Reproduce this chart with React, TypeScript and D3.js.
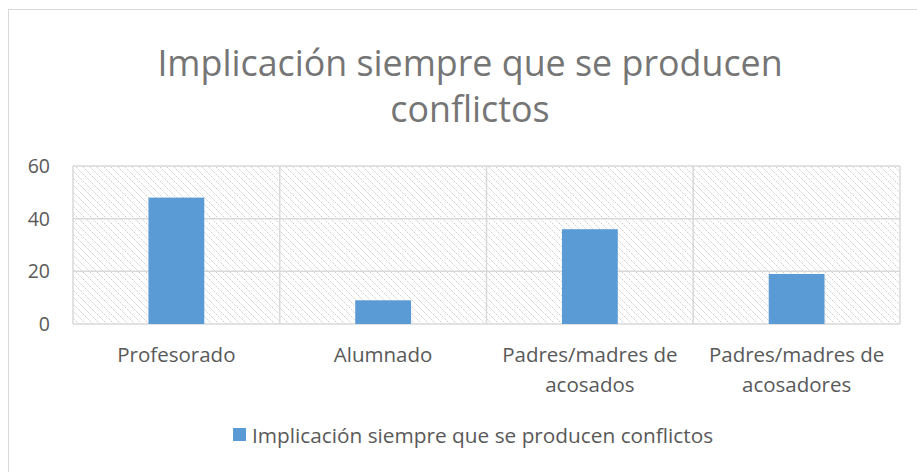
import React from "react";
import * as d3 from "d3";

const categories: string[][] = [
  ["Profesorado"],
  ["Alumnado"],
  ["Padres/madres de", "acosados"],
  ["Padres/madres de", "acosadores"],
];
const values: number[] = [48, 9, 36, 19];
const yTicks: number[] = [0, 20, 40, 60];
const titleLines: string[] = ["Implicación siempre que se producen", "conflictos"];
const seriesName = "Implicación siempre que se producen conflictos";

const W = 917;
const H = 472;
const FONT = "'Open Sans', sans-serif";
const TEXT = "#595959";
const GRID = "#d9d9d9";
const BAR = "#5b9bd5";

export default function App() {
  const left = 73, right = 900, top = 166, bottom = 324;
  const x = d3.scaleBand<number>().domain(d3.range(categories.length)).range([left, right]).padding(0);
  const y = d3.scaleLinear().domain([0, 60]).range([bottom, top]);
  const barW = x.bandwidth() * 0.27;

  return (
    <svg width={W} height={H} style={{ position: "absolute", left: 0, top: 0, display: "block" }}>
      <defs>
        <pattern id="hatch" patternUnits="userSpaceOnUse" width={7} height={7}>
          <rect width={7} height={7} fill="#ffffff" />
          <path d="M-1,-1 L8,8 M-4,3 L0,7 M6,-1 L8,1" stroke="#c9c9c9" strokeWidth={1} strokeDasharray="1.5,1" />
        </pattern>
      </defs>
      <rect x={0} y={0} width={W} height={H} fill="#ffffff" />
      <rect x={8.5} y={9.5} width={W} height={H} fill="#ffffff" stroke="#d9d9d9" strokeWidth={1} />
      {titleLines.map((t, i) => (
        <text key={i} x={470} y={76 + i * 46} textAnchor="middle" fontFamily={FONT} fontSize={35.8} fill="#757575">
          {t}
        </text>
      ))}
      <rect x={left} y={top} width={right - left} height={bottom - top} fill="url(#hatch)" />
      {yTicks.map((t) => (
        <g key={t}>
          <line x1={left} x2={right} y1={y(t)} y2={y(t)} stroke={GRID} strokeWidth={1.5} />
          <text x={50} y={y(t)} dy="0.36em" textAnchor="end" fontFamily={FONT} fontSize={19.5} fill={TEXT}>
            {t}
          </text>
        </g>
      ))}
      {d3.range(categories.length + 1).map((i) => {
        const xx = i < categories.length ? (x(i) as number) : right;
        return <line key={i} x1={xx} x2={xx} y1={top} y2={bottom} stroke={GRID} strokeWidth={1.5} />;
      })}
      {values.map((v, i) => (
        <rect key={i} x={(x(i) as number) + x.bandwidth() / 2 - barW / 2} y={y(v)} width={barW} height={y(0) - y(v)} fill={BAR} />
      ))}
      {categories.map((lines, i) => (
        <text key={i} textAnchor="middle" fontFamily={FONT} fontSize={20.5} fill={TEXT}>
          {lines.map((l, j) => (
            <tspan key={j} x={(x(i) as number) + x.bandwidth() / 2} y={362 + j * 30}>
              {l}
            </tspan>
          ))}
        </text>
      ))}
      <rect x={233} y={428} width={13} height={13} fill={BAR} />
      <text x={252} y={443} fontFamily={FONT} fontSize={20.8} fill={TEXT}>
        {seriesName}
      </text>
    </svg>
  );
}
